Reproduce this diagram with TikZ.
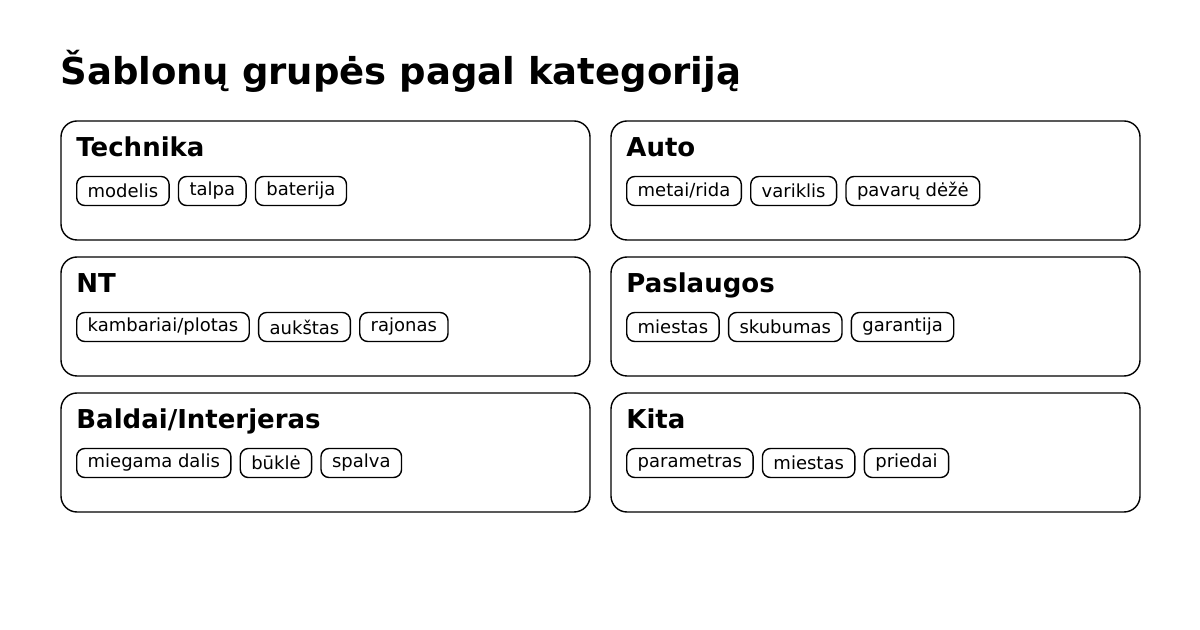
\documentclass[tikz,border=0pt]{standalone}
\usepackage{fontspec}
\setmainfont{DejaVu Sans}
\usetikzlibrary{positioning}
\begin{document}
\begin{tikzpicture}[x=0.5pt,y=-0.5pt,
  card/.style={draw,line width=0.7pt,rounded corners=8pt},
  ctitle/.style={anchor=base west,inner sep=0,font=\bfseries\fontsize{13}{15}\selectfont},
  chip/.style={draw,line width=0.7pt,rounded corners=4pt,inner xsep=5.5pt,inner ysep=0pt,minimum height=14.5pt,font=\fontsize{9}{11}\selectfont},
  ]
\useasboundingbox (0,0) rectangle (1200,630);
\node[anchor=base west,inner sep=0,font=\bfseries\fontsize{18.5}{22}\selectfont] (title) at (60,85) {Šablonų grupės pagal kategoriją};
\newcommand\mycard[6]{%
  \draw[card] (#1,#2) rectangle ++(529,119);
  \node[ctitle] (t#6) at (#1+15,#2+36) {#3};
  \node[chip,anchor=west] (a#6) at (#1+15,#2+70) {#4};
  \foreach \w [count=\i, remember=\i as \j (initially 0)] in {#5}{
    \ifnum\j=0 \node[chip,right=4pt of a#6] (c#6\i) {\w};
    \else \node[chip,right=4pt of c#6\j] (c#6\i) {\w};\fi
  }%
}
\mycard{61}{121}{Technika}{modelis}{talpa,baterija}{1}
\mycard{611}{121}{Auto}{metai/rida}{variklis,pavarų dėžė}{2}
\mycard{61}{257}{NT}{kambariai/plotas}{aukštas,rajonas}{3}
\mycard{611}{257}{Paslaugos}{miestas}{skubumas,garantija}{4}
\mycard{61}{393}{Baldai/Interjeras}{miegama dalis}{būklė,spalva}{5}
\mycard{611}{393}{Kita}{parametras}{miestas,priedai}{6}
\end{tikzpicture}
\end{document}
